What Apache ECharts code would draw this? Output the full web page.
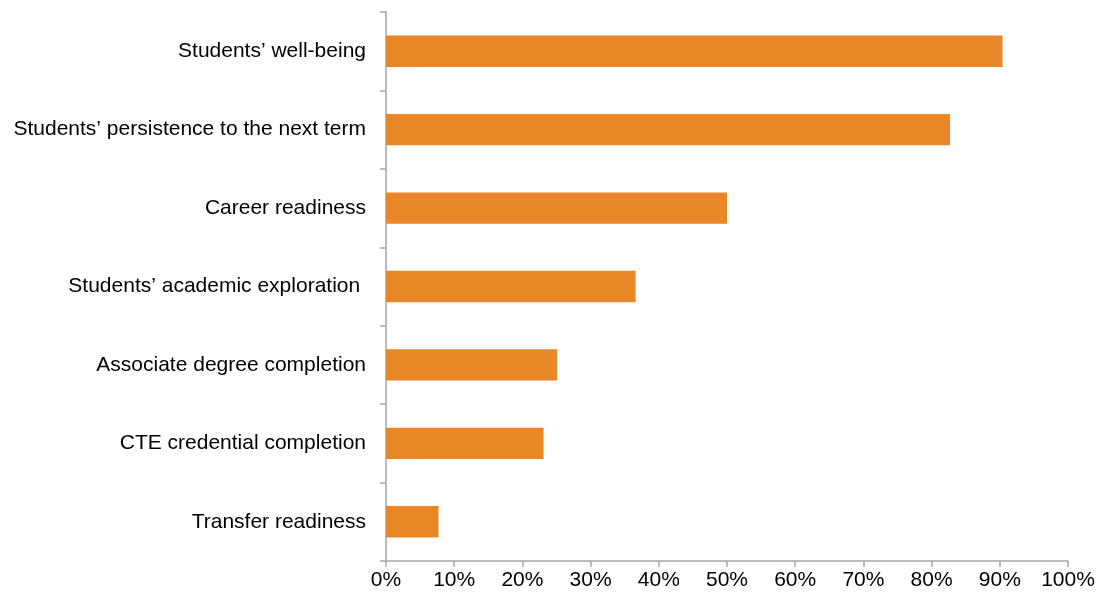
<!DOCTYPE html>
<html>
<head>
<meta charset="utf-8">
<script src="https://cdn.jsdelivr.net/npm/echarts@6/dist/echarts.min.js"></script>
<style>
  html, body { margin: 0; padding: 0; background: #fff; }
  #chart { width: 1098px; height: 600px; }
</style>
</head>
<body>
<div id="chart"></div>
<script>
// Outcome areas, listed bottom to top as the category axis draws them
const categories = [
  'Transfer readiness',
  'CTE credential completion',
  'Associate degree completion',
  'Students\u2019 academic exploration ',
  'Career readiness',
  'Students\u2019 persistence to the next term',
  'Students\u2019 well-being'
];
// Share of respondents (%)
const shares = [7.7, 23.1, 25.1, 36.6, 50.0, 82.7, 90.4];
const xTicks = [0, 10, 20, 30, 40, 50, 60, 70, 80, 90, 100];

const axisColor = '#A6A6A6';
const font = 'Liberation Sans, Arial, sans-serif';

const chart = echarts.init(document.getElementById('chart'), null, { renderer: 'canvas' });
chart.setOption({
  animation: false,
  grid: { left: 386, right: 30, top: 12, bottom: 39, containLabel: false },
  xAxis: {
    type: 'value',
    min: xTicks[0],
    max: xTicks[xTicks.length - 1],
    interval: xTicks[1] - xTicks[0],
    axisLine: { show: true, lineStyle: { color: axisColor, width: 1.5 } },
    axisTick: { show: true, length: 6, lineStyle: { color: axisColor, width: 1.5 } },
    splitLine: { show: false },
    axisLabel: {
      formatter: v => v + '%',
      color: '#000',
      fontFamily: font,
      fontSize: 21,
      margin: 9
    }
  },
  yAxis: {
    type: 'category',
    data: categories,
    axisLine: { show: true, lineStyle: { color: axisColor, width: 1.5 } },
    axisTick: { show: true, length: 6, lineStyle: { color: axisColor, width: 1.5 } },
    axisLabel: {
      color: '#000',
      fontFamily: font,
      fontSize: 21,
      margin: 20
    }
  },
  series: [{
    type: 'bar',
    data: shares,
    barCategoryGap: '60%',
    itemStyle: { color: '#E98628' }
  }]
});
</script>
</body>
</html>
